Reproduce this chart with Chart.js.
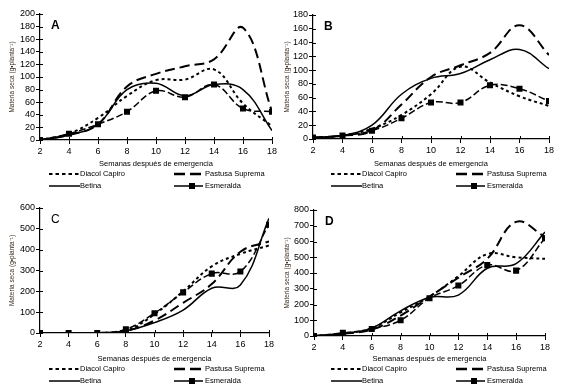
<!DOCTYPE html>
<html>
<head>
<meta charset="utf-8">
<script src="https://cdn.jsdelivr.net/npm/chart.js@4.4.0/dist/chart.umd.min.js"></script>
<style>
    body { margin: 0; background: #fff; }
    #wrap { position: relative; width: 564px; height: 390px; font-family: 'Liberation Sans', sans-serif; }
    .panel { position: absolute; width: 282px; height: 195px; }
    .panel canvas { position: absolute; left: 0; top: 0; }
    .tag { position: absolute; font: bold 12px 'Liberation Sans', sans-serif; color: #000; }
    .leg { position: absolute; font-size: 7.5px; color: #000; display: flex; align-items: center; line-height: 10px; }
    .leg svg { display: block; }
</style>
</head>
<body>
<div id="wrap"></div>
<script>
// Semanas
const weeks = [2, 4, 6, 8, 10, 12, 14, 16, 18];

// Panel A
const capiroA = [0, 10, 35, 70, 95, 96, 112, 58, 22];
const pastusaA = [0, 8, 25, 85, 105, 117, 128, 178, 45];
const betinaA = [0, 8, 25, 80, 90, 70, 88, 80, 15];
const esmeraldaA = [0, 10, 25, 45, 78, 68, 88, 50, 45];

// Panel B
const capiroB = [2, 5, 15, 35, 65, 105, 82, 62, 48];
const pastusaB = [2, 5, 12, 50, 90, 107, 125, 165, 122];
const betinaB = [2, 5, 20, 65, 88, 95, 115, 130, 102];
const esmeraldaB = [2, 5, 12, 30, 53, 53, 78, 73, 55];

// Panel C
const capiroC = [0, 0, 0, 10, 90, 200, 320, 380, 420];
const pastusaC = [0, 0, 0, 10, 60, 145, 235, 390, 440];
const betinaC = [0, 0, 0, 10, 50, 110, 215, 230, 550];
const esmeraldaC = [0, 0, 0, 18, 95, 195, 285, 295, 520];

// Panel D
const capiroD = [0, 15, 50, 150, 250, 380, 520, 500, 490];
const pastusaD = [0, 15, 40, 130, 250, 370, 490, 725, 630];
const betinaD = [0, 15, 50, 160, 245, 260, 430, 460, 660];
const esmeraldaD = [0, 20, 45, 100, 240, 320, 450, 415, 620];

const seriesNames = ['Diacol Capiro', 'Pastusa Suprema', 'Betina', 'Esmeralda'];
const xTitle = 'Semanas después de emergencia';
const yTitle = 'Materia seca (g•planta⁻¹)';

const panels = [
    { id: 'A', left: 0, top: 0, data: [capiroA, pastusaA, betinaA, esmeraldaA], max: 200, step: 20, area: [40, 272, 14, 140], pad: 8 },
    { id: 'B', left: 282, top: 0, data: [capiroB, pastusaB, betinaB, esmeraldaB], max: 180, step: 20, area: [31, 267, 15, 139], pad: 1 },
    { id: 'C', left: 0, top: 195, data: [capiroC, pastusaC, betinaC, esmeraldaC], max: 600, step: 100, area: [40, 269, 13, 138], pad: 8 },
    { id: 'D', left: 282, top: 195, data: [capiroD, pastusaD, betinaD, esmeraldaD], max: 800, step: 100, area: [32, 263, 15, 141], pad: 1 }
];

const styles = [
    { borderDash: [3, 3], borderWidth: 2, pointRadius: 0 },
    { borderDash: [10, 5], borderWidth: 2, pointRadius: 0 },
    { borderDash: [], borderWidth: 1.5, pointRadius: 0 },
    { borderDash: [7, 3], borderWidth: 1.5, pointRadius: 3.2, pointStyle: 'rect' }
];

const tickFont = { family: "'Liberation Sans', sans-serif", size: 9 };

function toPoints(values) {
    return weeks.map((w, i) => ({ x: w, y: values[i] }));
}

// marcas cortas hacia dentro, como en el original
const innerTicks = {
    id: 'innerTicks',
    afterDraw(chart) {
        const ctx = chart.ctx;
        const { x, y } = chart.scales;
        ctx.save();
        ctx.strokeStyle = '#000';
        ctx.lineWidth = 1;
        ctx.beginPath();
        y.ticks.forEach(t => {
            const py = Math.round(y.getPixelForValue(t.value)) + 0.5;
            ctx.moveTo(x.left, py);
            ctx.lineTo(x.left + 3, py);
        });
        x.ticks.forEach(t => {
            const px = Math.round(x.getPixelForValue(t.value)) + 0.5;
            ctx.moveTo(px, y.bottom);
            ctx.lineTo(px, y.bottom - 3);
        });
        ctx.stroke();
        ctx.restore();
    }
};

function legendSample(kind) {
    let line;
    if (kind === 0) line = '<line x1="0" y1="4" x2="31" y2="4" stroke="#000" stroke-width="2.2" stroke-dasharray="3.5,3"/>';
    else if (kind === 1) line = '<line x1="0" y1="4" x2="29" y2="4" stroke="#000" stroke-width="2.5" stroke-dasharray="11,5"/>';
    else if (kind === 2) line = '<line x1="0" y1="4" x2="31" y2="4" stroke="#000" stroke-width="1.5"/>';
    else line = '<line x1="0" y1="4" x2="29" y2="4" stroke="#000" stroke-width="1.5"/><rect x="15" y="1" width="6" height="6" fill="#000"/>';
    return '<svg width="31" height="8">' + line + '</svg>';
}

function buildPanel(p) {
    const box = document.createElement('div');
    box.className = 'panel';
    box.style.left = p.left + 'px';
    box.style.top = p.top + 'px';
    document.getElementById('wrap').appendChild(box);

    const canvas = document.createElement('canvas');
    canvas.width = 282;
    canvas.height = 168;
    canvas.style.width = '282px';
    canvas.style.height = '168px';
    box.appendChild(canvas);

    const tag = document.createElement('div');
    tag.className = 'tag';
    tag.textContent = p.id;
    tag.style.left = (p.area[0] + 11) + 'px';
    tag.style.top = (p.area[2] + 4) + 'px';
    if (p.id === 'C') tag.style.fontWeight = 'normal';
    box.appendChild(tag);

    // leyenda
    const legPos = [[49, 169], [174, 169], [49, 181], [174, 181]];
    seriesNames.forEach((name, k) => {
        const item = document.createElement('div');
        item.className = 'leg';
        item.style.left = legPos[k][0] + 'px';
        item.style.top = legPos[k][1] + 'px';
        item.innerHTML = legendSample(k) + '<span>' + name + '</span>';
        box.appendChild(item);
    });

    const [left, right, top, bottom] = p.area;

    new Chart(canvas.getContext('2d'), {
        type: 'line',
        data: {
            datasets: p.data.map((vals, k) => ({
                label: seriesNames[k],
                data: toPoints(vals),
                borderColor: '#000',
                backgroundColor: '#000',
                tension: 0.4,
                fill: false,
                ...styles[k]
            }))
        },
        options: {
            responsive: false,
            animation: false,
            layout: { padding: { top: top, right: 282 - right, left: p.pad, bottom: 0 } },
            plugins: { legend: { display: false }, tooltip: { enabled: false } },
            scales: {
                x: {
                    type: 'linear',
                    min: 2,
                    max: 18,
                    ticks: { stepSize: 2, color: '#000', font: tickFont, padding: 2, maxRotation: 0, autoSkip: false },
                    grid: { drawOnChartArea: false, color: '#000', tickLength: 4 },
                    border: { color: '#000', width: 1.2 },
                    title: { display: true, text: xTitle, color: '#000', font: { family: tickFont.family, size: 7.5 }, padding: { top: 0, bottom: 0 } },
                    afterFit: (scale) => { scale.height = 168 - bottom; }
                },
                y: {
                    min: 0,
                    max: p.max,
                    ticks: { stepSize: p.step, color: '#000', font: tickFont, padding: 1, autoSkip: false },
                    grid: { drawOnChartArea: false, color: '#000', tickLength: 4 },
                    border: { color: '#000', width: 1.2 },
                    title: { display: true, text: yTitle, color: '#3a2a1a', font: { family: tickFont.family, size: 6.5 }, padding: 0 },
                    afterFit: (scale) => { scale.width = left - p.pad; }
                }
            }
        },
        plugins: [innerTicks]
    });
}

panels.forEach(buildPanel);
</script>
</body>
</html>
